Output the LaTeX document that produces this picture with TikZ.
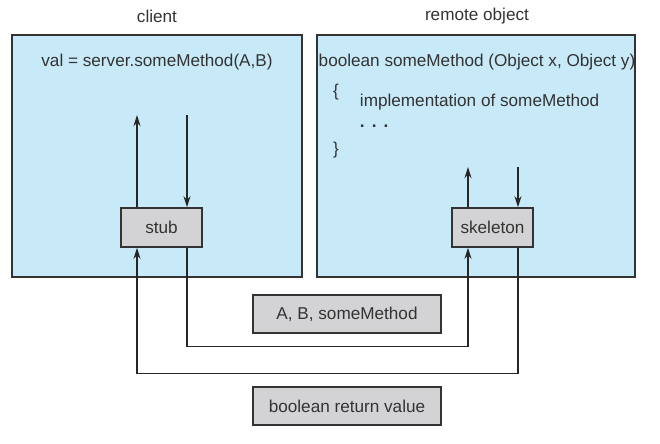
\documentclass[tikz,border=0pt]{standalone}
\usepackage{fontspec}
\setmainfont{Liberation Sans}
\usetikzlibrary{arrows.meta}
\definecolor{objblue}{HTML}{C8EAF8}
\definecolor{boxgray}{HTML}{D3D3D5}
\definecolor{inkgray}{HTML}{333333}

\begin{document}
\begin{tikzpicture}[x=0.025cm, y=-0.025cm, font=\fontsize{12.2}{14}\selectfont, text=inkgray,
		panel/.style={draw=inkgray, line width=1pt, fill=objblue},
		proxy/.style={draw=inkgray, line width=1pt, fill=boxgray, minimum width=2.025cm, minimum height=0.975cm},
		param/.style={draw=inkgray, line width=1pt, fill=boxgray, minimum width=4.7cm, minimum height=0.95cm},
		call/.style={line width=1.1pt, draw=black!85, -{Stealth[length=8pt, width=5pt]}}]
		%%%%% START %%%%%
		\useasboundingbox (0, 0) rectangle (660, 443);
		
		\draw[panel] (12, 35) rectangle (302, 277);
		\draw[panel] (317, 35) rectangle (635, 277);
		
		\node (clientlbl) at (157, 16) {client};
		\node (remotelbl) at (477, 16) {remote object};
		
		\node (invoke) at (157, 62) {val = server.someMethod(A,B)};
		\node (signature) at (477, 62) {boolean someMethod (Object x, Object y)};
		\node (lbrace) at (336, 92) {\{};
		\node[anchor=west] (impl) at (355, 102) {implementation of someMethod};
		\node[anchor=west] (dots) at (355, 126) {\bfseries .\hspace{5pt}.\hspace{5pt}.};
		\node (rbrace) at (336, 150) {\}};
		
		\node[proxy] (stub) at (161.5, 227.5) {stub};
		\node[proxy] (skeleton) at (492.5, 227.5) {skeleton};
		
		\node[param] (args) at (347, 314) {A, B, someMethod};
		\node[param] (retval) at (347, 406) {boolean return value};
		
		\coordinate (stubout) at (137, 115);
		\coordinate (stubin) at (187, 115);
		\coordinate (skelout) at (468, 167);
		\coordinate (skelin) at (518, 167);
		
		\draw[call] (stub.north -| stubout) -- (stubout);
		\draw[call] (stubin) -- (stubin |- stub.north);
		\draw[call] (skeleton.north -| skelout) -- (skelout);
		\draw[call] (skelin) -- (skelin |- skeleton.north);
		
		\draw[call] (stubin |- stub.south) -- ++(0, 99) -| (skelout |- skeleton.south);
		\draw[call] (skelin |- skeleton.south) -- ++(0, 126) -| (stubout |- stub.south);
		
		%%%%% END %%%%%
	\end{tikzpicture}
\end{document}
